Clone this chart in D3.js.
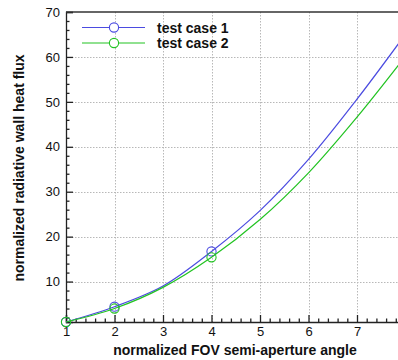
<!DOCTYPE html>
<html>
<head>
<meta charset="utf-8">
<script src="https://cdn.jsdelivr.net/npm/d3@7"></script>
<style>
  html, body { margin: 0; padding: 0; background: #fff; }
  svg { display: block; font-family: "Liberation Sans", Arial, sans-serif; }
</style>
</head>
<body>
<svg id="chart" width="398" height="360"></svg>
<script>
// Normalized FOV semi-aperture angle and the two heat-flux curves
const angles = [1, 2, 3, 4, 5, 6, 7, 7.9];
const case1Flux = [1, 4.4, 9.0, 16.7, 25.8, 37.2, 50.6, 63.6];
const case2Flux = [1, 4.0, 8.7, 15.4, 23.8, 34.2, 46.6, 58.8];
// Angles where the computed cases are marked with circles
const markerAngles = [1, 2, 4];
const seriesNames = ["test case 1", "test case 2"];
const seriesColors = ["#4b4be0", "#22c322"];
const xTicks = [1, 2, 3, 4, 5, 6, 7];
const yTicks = [10, 20, 30, 40, 50, 60, 70];

const svg = d3.select("#chart");
const plotLeft = 66, plotTop = 12, plotBottom = 322;

const x = d3.scaleLinear().domain([1, 8]).range([plotLeft, plotLeft + 7 * 48.5]);
const y = d3.scaleLinear().domain([1, 70]).range([plotBottom, plotTop]);

// dotted grid
const grid = svg.append("g").attr("stroke", "#b8b8b8").attr("stroke-width", 1)
  .attr("stroke-dasharray", "1.5,1.5");
grid.selectAll("line.v").data(xTicks.slice(1)).join("line").attr("class", "v")
  .attr("x1", d => Math.round(x(d)) + 0.5).attr("x2", d => Math.round(x(d)) + 0.5)
  .attr("y1", plotTop).attr("y2", plotBottom);
grid.selectAll("line.h").data(yTicks.slice(0, -1)).join("line").attr("class", "h")
  .attr("y1", d => Math.round(y(d)) + 0.5).attr("y2", d => Math.round(y(d)) + 0.5)
  .attr("x1", plotLeft).attr("x2", 398);

// bottom axis with inward ticks
svg.append("g").attr("transform", `translate(0,${plotBottom})`)
  .call(d3.axisBottom(x).tickValues(xTicks).tickSize(-7).tickPadding(5).tickFormat(d3.format("d")));
const xMinor = d3.range(1, 8.01, 0.2).filter(v => Math.abs(v - Math.round(v)) > 1e-6);
svg.append("g").attr("transform", `translate(0,${plotBottom})`)
  .call(d3.axisBottom(x).tickValues(xMinor).tickSize(-3.5).tickFormat(""))
  .call(g => g.select(".domain").remove());

// left axis with inward ticks
svg.append("g").attr("transform", `translate(${plotLeft},0)`)
  .call(d3.axisLeft(y).tickValues(yTicks).tickSize(-7).tickPadding(6).tickFormat(d3.format("d")));
const yMinor = d3.range(2, 70, 2).filter(v => v % 10 !== 0);
svg.append("g").attr("transform", `translate(${plotLeft},0)`)
  .call(d3.axisLeft(y).tickValues(yMinor).tickSize(-3.5).tickFormat(""))
  .call(g => g.select(".domain").remove());

svg.selectAll(".tick text").attr("font-size", 13).attr("fill", "#111")
  .attr("font-family", "'Liberation Sans', Arial, sans-serif");
svg.selectAll(".domain, .tick line").attr("stroke", "#222").attr("stroke-width", 1.3);

// top frame
svg.append("line").attr("x1", plotLeft).attr("x2", 398).attr("y1", plotTop).attr("y2", plotTop)
  .attr("stroke", "#333").attr("stroke-width", 1.6);

// curves
const line = d3.line().x(d => x(d[0])).y(d => y(d[1])).curve(d3.curveCatmullRom.alpha(0.5));
const series = [case1Flux, case2Flux];
series.forEach((vals, i) => {
  const pts = angles.map((a, k) => [a, vals[k]]);
  svg.append("path").datum(pts).attr("d", line)
    .attr("fill", "none").attr("stroke", seriesColors[i]).attr("stroke-width", 1.2);
  const marks = pts.filter(p => markerAngles.includes(p[0]));
  svg.append("g").selectAll("circle").data(marks).join("circle")
    .attr("cx", d => x(d[0])).attr("cy", d => y(d[1])).attr("r", 4.6)
    .attr("fill", "none").attr("stroke", seriesColors[i]).attr("stroke-width", 1.1);
});

// legend
const legend = svg.append("g");
seriesNames.forEach((name, i) => {
  const ly = 27.5 + i * 15.5;
  legend.append("line").attr("x1", 82).attr("x2", 145).attr("y1", ly).attr("y2", ly)
    .attr("stroke", seriesColors[i]).attr("stroke-width", 1.2);
  legend.append("circle").attr("cx", 114).attr("cy", ly).attr("r", 4.6)
    .attr("fill", "#fff").attr("stroke", seriesColors[i]).attr("stroke-width", 1.1);
  legend.append("text").attr("x", 157).attr("y", ly + 5)
    .attr("font-size", 14).attr("font-weight", "bold").attr("fill", "#111").text(name);
});

// axis titles
svg.append("text").attr("x", 235).attr("y", 355).attr("text-anchor", "middle")
  .attr("font-size", 14).attr("font-weight", "bold").attr("fill", "#111")
  .text("normalized FOV semi-aperture angle");
svg.append("text").attr("transform", "translate(24,168) rotate(-90)").attr("text-anchor", "middle")
  .attr("font-size", 14).attr("font-weight", "bold").attr("fill", "#111")
  .text("normalized radiative wall heat flux");
</script>
</body>
</html>
